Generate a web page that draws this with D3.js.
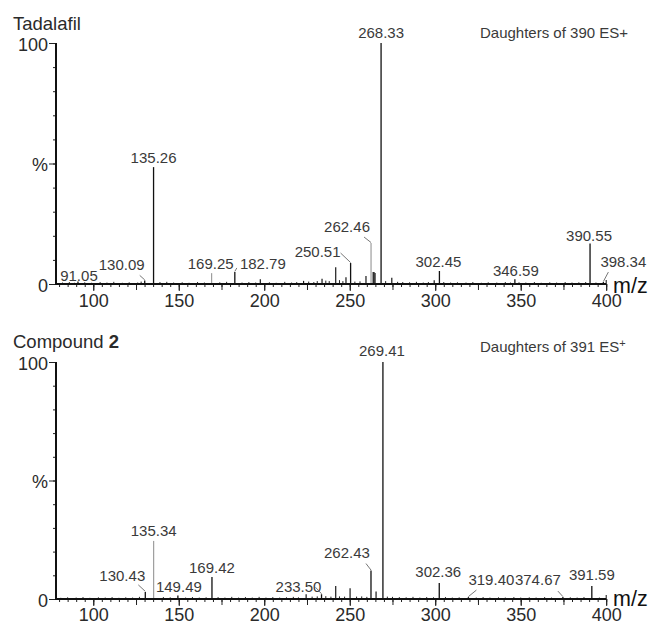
<!DOCTYPE html>
<html>
<head>
<meta charset="utf-8">
<script src="https://cdn.jsdelivr.net/npm/d3@7/dist/d3.min.js"></script>
<style>
  html, body { margin: 0; padding: 0; background: #fff; }
  svg { display: block; font-family: "Liberation Sans", Arial, Helvetica, sans-serif; }
</style>
</head>
<body>
<svg id="chart" width="651" height="625"></svg>
<script>
// ---- spectrum data: [m/z, relative intensity %] ----
const tadalafilLabelled = [
  [91.05, 1.0], [130.09, 1.5], [135.26, 48.5], [169.25, 4.5], [182.79, 5.0],
  [250.51, 8.7], [262.46, 17.0], [268.33, 100], [302.45, 5.4], [346.59, 2.0],
  [390.55, 16.8], [398.34, 0.8]
];
const tadalafilOther = [
  [197.7, 2.0], [223.0, 1.3], [233.8, 2.2], [241.8, 7.0], [247.8, 2.8],
  [259.5, 3.3], [263.7, 5.0], [264.2, 5.0], [264.8, 4.6], [274.6, 2.6], [299.4, 1.6]
];
const tadalafilNoise = [
  [82, 0.6], [86, 0.8], [89, 0.5], [95, 0.7], [99, 0.5], [104, 0.8], [108, 0.6], [112, 0.9],
  [117, 0.5], [121, 0.7], [126, 0.6], [128, 1.0], [139, 0.8], [143, 0.9], [147, 0.6], [152, 0.7],
  [156, 0.5], [161, 0.8], [165, 0.6], [174, 0.7], [178, 0.9], [187, 0.6], [191, 0.8], [195, 0.6],
  [203, 0.7], [207, 0.5], [212, 0.9], [216, 0.6], [219, 0.8], [226, 1.0], [229, 0.8], [231, 1.2],
  [236, 1.4], [238, 1.2], [244, 1.6], [246, 1.2], [253, 1.0], [256, 1.1], [271, 1.2], [278, 0.9],
  [281, 0.8], [285, 0.7], [289, 0.9], [293, 0.6], [296, 0.8], [305, 0.8], [309, 0.6], [313, 0.7],
  [318, 0.6], [322, 0.8], [327, 0.5], [331, 0.7], [336, 0.6], [341, 0.8], [344, 0.6], [349, 0.7],
  [353, 0.6], [358, 0.8], [362, 0.5], [367, 0.7], [371, 0.6], [376, 0.8], [380, 0.6], [384, 0.7],
  [388, 0.8], [394, 0.6]
];

const compoundLabelled = [
  [130.43, 3.0], [135.34, 24.5], [149.49, 1.5], [169.42, 9.3], [233.50, 2.0],
  [262.43, 12.0], [269.41, 100], [302.36, 6.8], [319.40, 0.8], [374.67, 0.8], [391.59, 5.5]
];
const compoundOther = [
  [224.5, 2.0], [241.8, 5.5], [250.2, 4.5], [265.4, 3.2]
];
const compoundNoise = [
  [81, 0.5], [85, 0.7], [90, 0.6], [94, 0.8], [98, 0.5], [103, 0.7], [107, 0.6], [111, 0.8],
  [115, 0.5], [119, 0.7], [123, 0.6], [127, 0.9], [141, 0.8], [145, 0.7], [154, 0.6], [158, 0.8],
  [162, 0.6], [166, 0.7], [173, 0.8], [177, 0.6], [181, 0.9], [185, 0.6], [189, 0.8], [193, 0.6],
  [197, 0.9], [201, 0.6], [205, 0.8], [209, 0.6], [213, 0.7], [217, 0.9], [220, 0.7], [228, 1.0],
  [231, 1.1], [236, 1.2], [239, 1.0], [244, 1.1], [247, 1.0], [254, 1.0], [257, 1.1], [260, 0.9],
  [272, 1.0], [275, 0.9], [279, 0.8], [283, 0.7], [287, 0.9], [291, 0.6], [295, 0.8], [299, 0.7],
  [306, 0.8], [310, 0.6], [314, 0.7], [324, 0.6], [328, 0.8], [332, 0.6], [337, 0.7], [341, 0.6],
  [346, 0.8], [350, 0.6], [355, 0.7], [359, 0.6], [364, 0.8], [368, 0.6], [379, 0.7], [383, 0.6],
  [387, 0.8], [396, 0.6]
];

const xDomain = [78.2, 400];
const majorTicks = [100, 150, 200, 250, 300, 350, 400];
const yTicks = [0, 50, 100];
const yTickLabels = ["0", "%", "100"];

// ---- layout ----
const svg = d3.select("#chart");
const x = d3.scaleLinear().domain(xDomain).range([56, 606.2]);

const panels = [
  {
    title: [{ t: "Tadalafil", bold: false }],
    note: ["Daughters of 390 ES", "+", false],
    labelled: tadalafilLabelled, other: tadalafilOther, noise: tadalafilNoise,
    top: 43, base: 284, titleY: 30, noteY: 37.5, tickPad: 3, mzY: 293,
    muted: [262.46, 169.25],
    // label placement: [dx from peak, baseline offset from peak top, leader start offset]
    place: {
      "91.05": [1, -1],
      "130.09": [-23, -10, [-5, -5]],
      "135.26": [0, -4],
      "169.25": [-1, -4],
      "182.79": [28, -3, [2, -4]],
      "250.51": [-33, -6, [-10, -10]],
      "262.46": [-24, -11, [-7, -6]],
      "268.33": [0, -5],
      "302.45": [-1, -4],
      "346.59": [1, -3],
      "390.55": [-1, -3],
      "398.34": [20, -15, [5, -10]]
    }
  },
  {
    title: [{ t: "Compound ", bold: false }, { t: "2", bold: true }],
    note: ["Daughters of 391 ES", "+", true],
    labelled: compoundLabelled, other: compoundOther, noise: compoundNoise,
    top: 362, base: 599, titleY: 348, noteY: 351.7, tickPad: 2.5, mzY: 606,
    muted: [135.34],
    place: {
      "130.43": [-23, -11, [-7, -7]],
      "135.34": [0, -5],
      "149.49": [1, -3],
      "169.42": [0, -4],
      "233.50": [-23, -2, [-6, -7]],
      "262.43": [-24, -13, [-5, -7]],
      "269.41": [-1, -6],
      "302.36": [-1, -6],
      "319.40": [23, -12, [8, -7]],
      "374.67": [-25, -12, [-5, -6]],
      "391.59": [0, -6]
    }
  }
];

panels.forEach(p => {
  const y = d3.scaleLinear().domain([0, 100]).range([p.base, p.top]);
  const g = svg.append("g");

  // panel title
  const title = g.append("text").attr("x", 13).attr("y", p.titleY)
    .attr("font-size", 18.5).attr("fill", "#2a2a2a");
  p.title.forEach(s => title.append("tspan").text(s.t).attr("font-weight", s.bold ? "bold" : "normal"));

  // acquisition note
  const note = g.append("text").attr("x", 480).attr("y", p.noteY)
    .attr("font-size", 15).attr("fill", "#3a3a3a");
  note.append("tspan").text(p.note[0]);
  if (p.note[2]) {
    note.append("tspan").text(p.note[1]).attr("font-size", 11).attr("dy", -5);
  } else {
    note.append("tspan").text(p.note[1]);
  }

  // baseline noise and unlabelled peaks
  g.append("g").selectAll("line").data(p.noise).join("line")
    .attr("x1", d => x(d[0])).attr("x2", d => x(d[0]))
    .attr("y1", y(0)).attr("y2", d => y(d[1]))
    .attr("stroke", "#222").attr("stroke-width", 1);

  g.append("g").selectAll("line").data(p.other).join("line")
    .attr("x1", d => x(d[0])).attr("x2", d => x(d[0]))
    .attr("y1", y(0)).attr("y2", d => y(d[1]))
    .attr("stroke", "#1a1a1a").attr("stroke-width", 1.2);

  // labelled peaks
  g.append("g").selectAll("line").data(p.labelled).join("line")
    .attr("x1", d => x(d[0])).attr("x2", d => x(d[0]))
    .attr("y1", y(0)).attr("y2", d => y(d[1]))
    .attr("stroke", d => p.muted.includes(d[0]) ? "#8a8a8a" : "#111")
    .attr("stroke-width", d => p.muted.includes(d[0]) ? 1 : 1.3);

  // peak labels and leader lines
  p.labelled.forEach(d => {
    const key = d[0].toFixed(2);
    const pl = p.place[key] || [0, -3];
    const px = x(d[0]), py = y(d[1]);
    g.append("text").attr("x", px + pl[0]).attr("y", py + pl[1])
      .attr("text-anchor", "middle").attr("font-size", 15).attr("fill", "#3a3a3a")
      .text(key);
    if (pl[2]) {
      g.append("line").attr("x1", px + pl[2][0]).attr("y1", py + pl[2][1])
        .attr("x2", px).attr("y2", py - 0.5)
        .attr("stroke", "#777").attr("stroke-width", 1);
    }
  });

  // x axis: minor, medium and labelled ticks
  const xAxisG = g.append("g").attr("transform", `translate(0,${y(0)})`);
  const minor = d3.range(80, 401, 5);
  const medium = d3.range(75, 401, 25).filter(v => v >= xDomain[0]);
  xAxisG.append("g").call(d3.axisBottom(x).tickValues(minor).tickSize(3).tickFormat(""));
  xAxisG.append("g").call(d3.axisBottom(x).tickValues(medium).tickSize(6).tickFormat(""));
  xAxisG.append("g").call(d3.axisBottom(x).tickValues(majorTicks).tickSize(7)
    .tickPadding(p.tickPad).tickFormat(d3.format("d")));
  xAxisG.selectAll(".domain").remove();
  xAxisG.selectAll(".tick line").attr("stroke", "#222").attr("stroke-width", 1);
  xAxisG.selectAll(".tick text").attr("font-size", 18).attr("fill", "#2a2a2a")
    .attr("font-family", "Liberation Sans, Arial, sans-serif");
  xAxisG.append("line").attr("x1", x(xDomain[0])).attr("x2", x(xDomain[1]))
    .attr("stroke", "#111").attr("stroke-width", 2);
  xAxisG.append("line").attr("x1", x(xDomain[1])).attr("x2", x(xDomain[1]))
    .attr("y1", 0).attr("y2", -4).attr("stroke", "#111").attr("stroke-width", 1);

  g.append("text").attr("x", 613).attr("y", p.mzY).attr("font-size", 21.5).attr("fill", "#111").text("m/z");

  // y axis
  const yAxisG = g.append("g").attr("transform", `translate(${x(xDomain[0])},0)`);
  yAxisG.append("g").call(d3.axisLeft(y).tickValues(d3.range(0, 101, 10)).tickSize(3).tickFormat(""));
  yAxisG.append("g").call(d3.axisLeft(y).tickValues(yTicks).tickSize(7).tickPadding(1)
    .tickFormat((d, i) => yTickLabels[i]));
  yAxisG.selectAll(".domain").remove();
  yAxisG.selectAll(".tick line").attr("stroke", "#222").attr("stroke-width", 1);
  yAxisG.selectAll(".tick text").attr("font-size", 18).attr("fill", "#2a2a2a").attr("dy", "0.4em")
    .attr("font-family", "Liberation Sans, Arial, sans-serif");
  yAxisG.append("line").attr("y1", y(0) + 1).attr("y2", y(100))
    .attr("stroke", "#111").attr("stroke-width", 2);
});
</script>
</body>
</html>
